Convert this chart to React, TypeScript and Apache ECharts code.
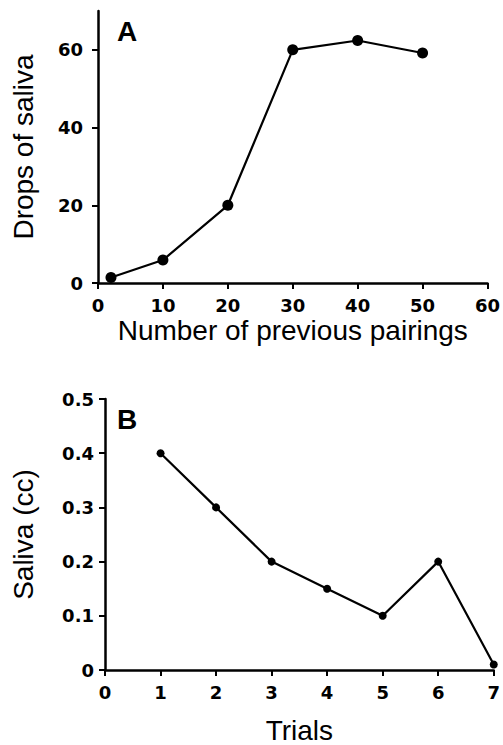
import React, { useEffect, useRef } from "react";
import * as echarts from "echarts";

const pairings = [2, 10, 20, 30, 40, 50];
const drops = [1.4, 5.9, 20, 60, 62.4, 59.2];
const xTicksA = [0, 10, 20, 30, 40, 50, 60];
const yTicksA = [0, 20, 40, 60];

const trials = [1, 2, 3, 4, 5, 6, 7];
const saliva = [0.4, 0.3, 0.2, 0.15, 0.1, 0.2, 0.01];
const xTicksB = [0, 1, 2, 3, 4, 5, 6, 7];
const yTicksB = [0, 0.1, 0.2, 0.3, 0.4, 0.5];

const FONT = "Liberation Sans, Arial, sans-serif";
const TICK_FONT = "DejaVu Sans, Liberation Sans, sans-serif";

export default function App() {
  const ref = useRef<HTMLDivElement>(null);
  useEffect(() => {
    document.body.style.margin = "0";
    const chart = echarts.init(ref.current!, null, { renderer: "svg" });
    const axisLine = { lineStyle: { color: "#000", width: 2.5 } };
    const axisTick = (vals: number[]) => ({
      show: true,
      inside: false,
      length: 6,
      lineStyle: { color: "#000", width: 2 },
      customValues: vals,
    });
    const label = (vals: number[], margin: number) => ({
      customValues: vals,
      color: "#000",
      fontFamily: TICK_FONT,
      fontWeight: "bold" as const,
      fontSize: 18,
      margin,
    });
    const nameStyle = { color: "#000", fontFamily: FONT, fontSize: 28 };
    chart.setOption({
      animation: false,
      backgroundColor: "#fff",
      grid: [
        { left: 98, right: 11, top: 11, bottom: 462 },
        { left: 105, right: 6, top: 399, bottom: 72 },
      ],
      xAxis: [
        {
          gridIndex: 0,
          type: "value",
          min: 0,
          max: 60,
          interval: 10,
          axisLine,
          axisTick: axisTick(xTicksA),
          axisLabel: label(xTicksA, 13),
          splitLine: { show: false },
          name: "Number of previous pairings",
          nameLocation: "middle",
          nameGap: 33,
          nameTextStyle: nameStyle,
        },
        {
          gridIndex: 1,
          type: "value",
          min: 0,
          max: 7,
          interval: 1,
          axisLine,
          axisTick: axisTick(xTicksB),
          axisLabel: label(xTicksB, 13),
          splitLine: { show: false },
          name: "Trials",
          nameLocation: "middle",
          nameGap: 46,
          nameTextStyle: nameStyle,
        },
      ],
      yAxis: [
        {
          gridIndex: 0,
          type: "value",
          min: 0,
          max: 70,
          interval: 10,
          axisLine,
          axisTick: axisTick(yTicksA),
          axisLabel: label(yTicksA, 15),
          splitLine: { show: false },
          name: "Drops of saliva",
          nameLocation: "middle",
          nameGap: 61,
          nameTextStyle: nameStyle,
        },
        {
          gridIndex: 1,
          type: "value",
          min: 0,
          max: 0.5,
          interval: 0.1,
          axisLine,
          axisTick: axisTick(yTicksB),
          axisLabel: label(yTicksB, 11),
          splitLine: { show: false },
          name: "Saliva (cc)",
          nameLocation: "middle",
          nameGap: 68,
          nameTextStyle: nameStyle,
        },
      ],
      graphic: [
        {
          type: "text",
          left: 117,
          top: 17,
          style: { text: "A", fill: "#000", font: `bold 28px ${FONT}` },
        },
        {
          type: "text",
          left: 117,
          top: 405,
          style: { text: "B", fill: "#000", font: `bold 28px ${FONT}` },
        },
      ],
      series: [
        {
          type: "line",
          xAxisIndex: 0,
          yAxisIndex: 0,
          data: pairings.map((x, i) => [x, drops[i]]),
          symbol: "circle",
          symbolSize: 11,
          itemStyle: { color: "#000" },
          lineStyle: { color: "#000", width: 2.2 },
          clip: false,
        },
        {
          type: "line",
          xAxisIndex: 1,
          yAxisIndex: 1,
          data: trials.map((x, i) => [x, saliva[i]]),
          symbol: "circle",
          symbolSize: 8,
          itemStyle: { color: "#000" },
          lineStyle: { color: "#000", width: 2.2 },
          clip: false,
        },
      ],
    });
    return () => chart.dispose();
  }, []);
  return <div ref={ref} style={{ width: 503, height: 745 }} />;
}
